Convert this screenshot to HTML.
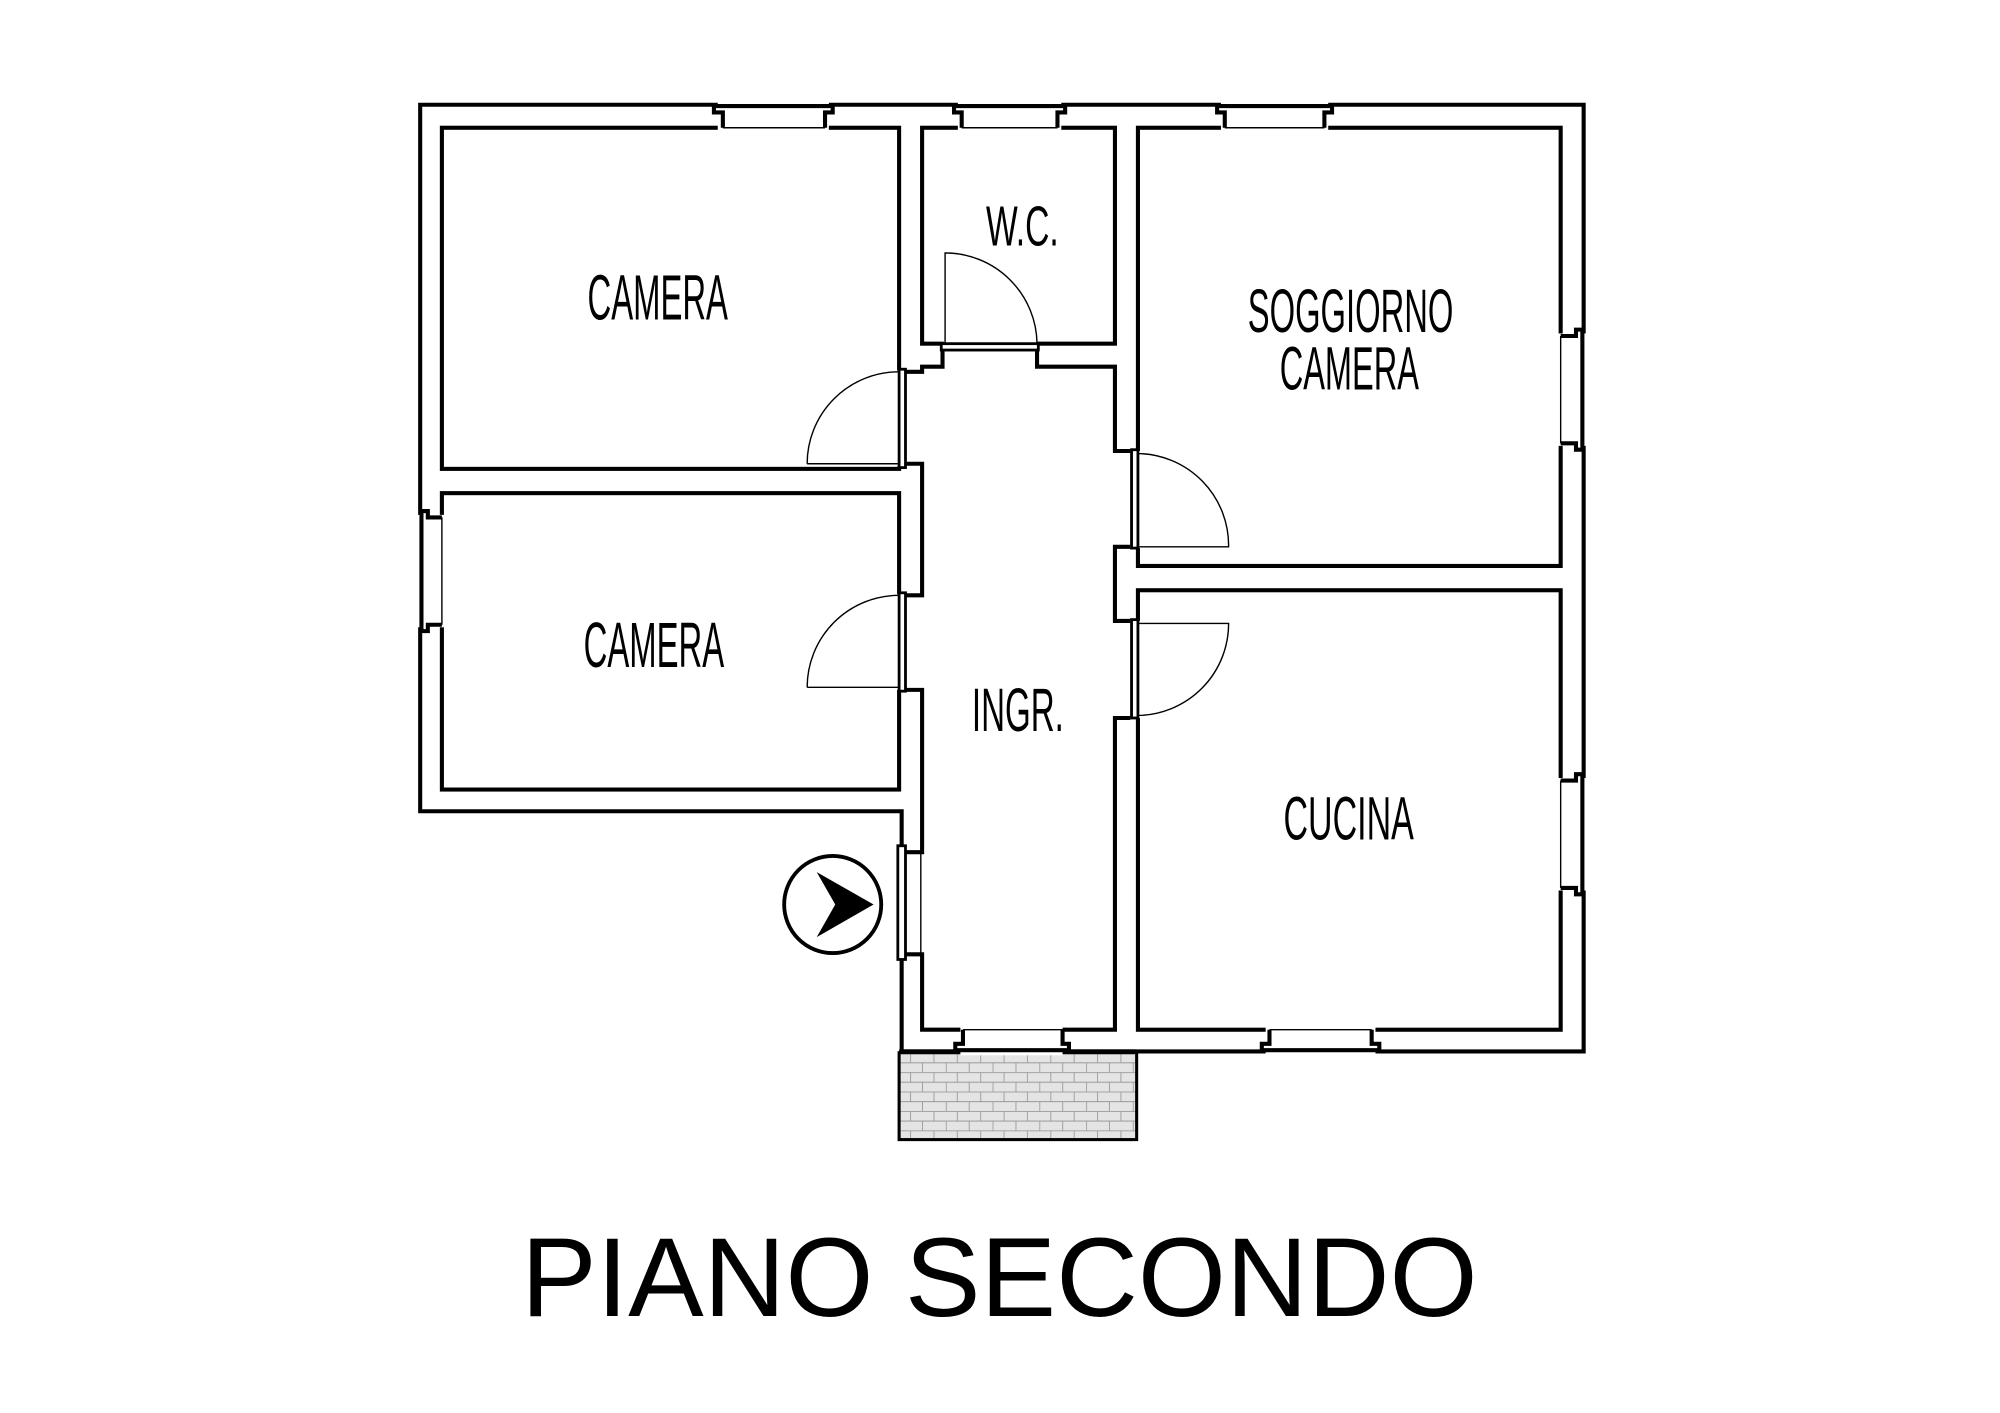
<!DOCTYPE html>
<html><head><meta charset="utf-8"><style>
html,body{margin:0;padding:0;background:#fff;}
svg{display:block;}
</style></head><body>
<svg width="2000" height="1413" viewBox="0 0 1566 1106" preserveAspectRatio="none" xmlns="http://www.w3.org/2000/svg">
<defs>
<pattern id="brick" x="704" y="824" width="36.6" height="15.2" patternUnits="userSpaceOnUse">
<rect width="36.6" height="15.2" fill="#e4e4e4"/>
<path d="M0 0.3H36.6M0 7.9H36.6M9 0V7.6M27.3 0V7.6M0.3 7.6V15.2M18.3 7.6V15.2" stroke="#9a9a9a" stroke-width="0.7" fill="none"/>
</pattern>
</defs>
<rect width="1566" height="1106" fill="#fff"/>
<g fill="none" stroke="#000" stroke-width="3.2" stroke-linejoin="miter">
<!-- outer -->
<polygon points="329,82 1240,82 1240,823 706,823 706,635 329,635"/>
<!-- rooms -->
<rect x="346" y="100" width="358" height="267"/>
<rect x="346" y="386" width="358" height="232"/>
<rect x="722" y="100" width="151" height="169"/>
<rect x="891" y="100" width="331" height="343"/>
<rect x="891" y="462" width="331" height="344"/>
</g>
<!-- balcony -->
<rect x="704" y="824" width="186" height="68" fill="url(#brick)" stroke="#000" stroke-width="2.4"/>
<line x1="704" y1="823" x2="890" y2="823" stroke="#000" stroke-width="3.2"/>
<!-- white-outs for openings -->
<g fill="#fff">
<rect x="562" y="79" width="87" height="24"/>
<rect x="750" y="79" width="81" height="24"/>
<rect x="956" y="79" width="84" height="24"/>
<rect x="1219" y="261" width="24" height="88"/>
<rect x="1219" y="609" width="24" height="88"/>
<rect x="991" y="803" width="86" height="23"/>
<rect x="752" y="803" width="80" height="23"/>
<rect x="326" y="403" width="23" height="88"/>
<rect x="702" y="663" width="8" height="88"/>
<rect x="700" y="290" width="14" height="75"/>
<rect x="700" y="465" width="14" height="75"/>
<rect x="887" y="353" width="8" height="76"/>
<rect x="887" y="486" width="8" height="76"/>
<rect x="739" y="265" width="73" height="8"/>
</g>
<g fill="none" stroke="#000" stroke-width="3.2">
<!-- corridor outline -->
<polyline points="709,291 722,291 722,287 738,287 738,273"/>
<polyline points="812,273 812,287 873,287 873,353 885,353"/>
<polyline points="885,428 873,428 873,486 885,486"/>
<polyline points="885,562 873,562 873,806 832,806"/>
<polyline points="752,806 722,806 722,747 709,747"/>
<polyline points="709,667 722,667 722,540 709,540"/>
<polyline points="709,466 722,466 722,363 709,363"/>
<!-- window jambs top -->
<polyline points="566,100 566,88 559,88 559,83 652,83 652,88 646,88 646,100"/>
<polyline points="753,100 753,88 747,88 747,83 834,83 834,88 828,88 828,100"/>
<polyline points="959,100 959,88 953,88 953,83 1043,83 1043,88 1037,88 1037,100"/>
<!-- right windows -->
<polyline points="1222,263 1234,263 1234,258 1239,258 1239,352 1234,352 1234,347 1222,347"/>
<polyline points="1222,611 1234,611 1234,606 1239,606 1239,700 1234,700 1234,695 1222,695"/>
<!-- bottom windows -->
<polyline points="994,806 994,817 988,817 988,822 1080,822 1080,817 1074,817 1074,806"/>
<polyline points="754,806 754,817 748,817 748,822 837,822 837,817 832,817 832,806"/>
<!-- left window -->
<polyline points="346,405 335,405 335,400 330,400 330,494 335,494 335,489 346,489"/>
</g>
<!-- thin glass lines -->
<g stroke="#000" stroke-width="1.1" fill="none">
<line x1="566" y1="100" x2="646" y2="100"/>
<line x1="753" y1="100" x2="828" y2="100"/>
<line x1="959" y1="100" x2="1037" y2="100"/>
<line x1="1222" y1="263" x2="1222" y2="347"/>
<line x1="1222" y1="611" x2="1222" y2="695"/>
<line x1="994" y1="806" x2="1074" y2="806"/>
<line x1="754" y1="806" x2="832" y2="806"/>
<line x1="346" y1="405" x2="346" y2="489"/>
<line x1="721" y1="667" x2="721" y2="747"/>
<!-- door swings -->
<path d="M632,363 A72,72 0 0 1 704,291 M632,363 H704"/>
<path d="M632,538 A72,72 0 0 1 704,466 M632,538 H704"/>
<path d="M891,355 A72,72 0 0 1 962,428 H891"/>
<path d="M891,560 A72,72 0 0 0 962,488 H891"/>
<path d="M740,269 V198 A72,72 0 0 1 812,269"/>
</g>
<!-- door frames -->
<g fill="#fff" stroke="#000" stroke-width="2.2">
<rect x="704" y="289" width="5" height="77"/>
<rect x="704" y="464" width="5" height="77"/>
<rect x="886" y="352" width="5" height="77"/>
<rect x="886" y="485" width="5" height="77"/>
<rect x="737" y="269" width="76" height="5"/>
<rect x="703" y="662" width="6" height="89"/>
</g>
<!-- entrance arrow -->
<circle cx="652" cy="708" r="38" fill="#fff" stroke="#000" stroke-width="3"/>
<polygon points="639.5,682.6 684,708 639.5,733.5 654,708" fill="#000"/>
<!-- labels -->
<g font-family="'Liberation Sans', sans-serif" fill="#000" font-size="50">
<text x="460" y="250" textLength="110" lengthAdjust="spacingAndGlyphs">CAMERA</text>
<text x="457" y="522" textLength="110" lengthAdjust="spacingAndGlyphs">CAMERA</text>
<text x="772" y="192" font-size="44" textLength="57" lengthAdjust="spacingAndGlyphs">W.C.</text>
<text x="977" y="260" font-size="48" textLength="161" lengthAdjust="spacingAndGlyphs">SOGGIORNO</text>
<text x="1002" y="305" font-size="48" textLength="109" lengthAdjust="spacingAndGlyphs">CAMERA</text>
<text x="761" y="572" font-size="48" textLength="72" lengthAdjust="spacingAndGlyphs">INGR.</text>
<text x="1005" y="657" font-size="48" textLength="102" lengthAdjust="spacingAndGlyphs">CUCINA</text>
<text x="408" y="1030" font-size="88" textLength="749" lengthAdjust="spacingAndGlyphs">PIANO SECONDO</text>
</g>
</svg>
</body></html>
